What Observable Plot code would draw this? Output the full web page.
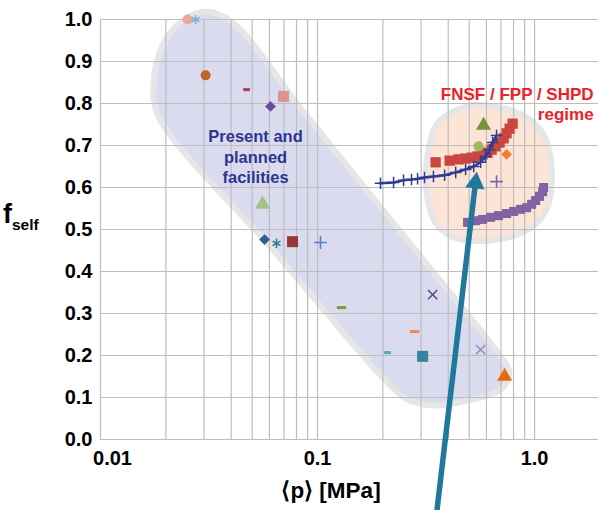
<!DOCTYPE html>
<html>
<head>
<meta charset="utf-8">
<script src="https://cdn.jsdelivr.net/npm/d3@7"></script>
<script src="https://cdn.jsdelivr.net/npm/@observablehq/plot@0.6"></script>
<style>
  html, body { margin: 0; padding: 0; background: #ffffff; }
</style>
</head>
<body>
<div id="chart"></div>
<script>
// ---------- axis ticks ----------
const yTicks = [0, 0.1, 0.2, 0.3, 0.4, 0.5, 0.6, 0.7, 0.8, 0.9, 1.0];
const xGridTicks = [0.01, 0.02, 0.03, 0.04, 0.05, 0.06, 0.07, 0.08, 0.09,
                    0.1, 0.2, 0.3, 0.4, 0.5, 0.6, 0.7, 0.8, 0.9, 1.0];
const xTickValues = [0.01, 0.1, 1.0];
const xTickLabels = ["0.01", "0.1", "1.0"];

// ---------- present and planned facilities (single points) ----------
const facP = [0.0252, 0.0274, 0.0305, 0.0471, 0.0697, 0.0607, 0.0558, 0.0570, 0.0647,
              0.0767, 0.1032, 0.129, 0.280, 0.339, 0.210, 0.305, 0.564, 0.728];
const facF = [1.000, 1.000, 0.867, 0.833, 0.817, 0.793, 0.560, 0.476, 0.467,
              0.471, 0.469, 0.314, 0.257, 0.345, 0.207, 0.198, 0.214, 0.150];
const facMarker = ["circle", "asterisk", "circle", "dashS", "square", "diamond", "triangle", "diamond", "asterisk",
                   "square", "plus", "dash", "dash", "times", "dashS", "square", "times", "triangle"];
const facColor = ["#f2a597", "#7ab6d8", "#c0652a", "#b3384a", "#d99594", "#6a4a9a", "#a6bf8c", "#2e5f8c", "#2f7f99",
                  "#953735", "#5a7fc0", "#7a9a3c", "#f08a4b", "#5d4a8a", "#4bacc6", "#31859c", "#9b89c0", "#e46c0a"];

// ---------- FNSF / FPP / SHPD single points ----------
const fnsfP = [0.582, 0.552, 0.743, 0.668];
const fnsfF = [0.748, 0.698, 0.679, 0.614];
const fnsfMarker = ["triangle", "circle", "diamond", "plus"];
const fnsfColor = ["#76923c", "#9bbb59", "#f07f28", "#8064a2"];

// ---------- FNSF scans ----------
const redP = [0.350, 0.406, 0.447, 0.481, 0.513, 0.546, 0.576, 0.607, 0.634, 0.661, 0.690, 0.720, 0.743, 0.767, 0.792];
const redF = [0.660, 0.664, 0.667, 0.669, 0.671, 0.674, 0.679, 0.683, 0.690, 0.698, 0.707, 0.717, 0.729, 0.740, 0.752];

const purpleP = [0.491, 0.535, 0.576, 0.627, 0.682, 0.743, 0.800, 0.862, 0.919, 0.969, 1.011, 1.054, 1.089, 1.100];
const purpleF = [0.517, 0.521, 0.524, 0.529, 0.533, 0.538, 0.543, 0.548, 0.552, 0.560, 0.569, 0.579, 0.590, 0.600];

const blueP = [0.195, 0.224, 0.249, 0.271, 0.289, 0.311, 0.342, 0.385, 0.433, 0.481, 0.524, 0.564, 0.594, 0.620, 0.641, 0.668];
const blueF = [0.610, 0.612, 0.617, 0.619, 0.621, 0.624, 0.626, 0.629, 0.636, 0.643, 0.650, 0.660, 0.674, 0.690, 0.707, 0.724];

// ---------- annotation shapes (outline points in data units) ----------
const presentRegionP = [0.0305, 0.0406, 0.0853, 0.2889, 0.6972, 0.767, 0.6972, 0.4965, 0.3388, 0.2544, 0.1993, 0.0640, 0.01851, 0.01754, 0.01931, 0.02336];
const presentRegionF = [1.019, 0.993, 0.783, 0.445, 0.198, 0.160, 0.119, 0.093, 0.081, 0.098, 0.148, 0.445, 0.769, 0.843, 0.938, 0.993];

const fnsfRegionP = [0.500, 0.700, 0.900, 1.090, 1.185, 1.200, 1.150, 1.000, 0.780, 0.560, 0.420, 0.345, 0.318, 0.322, 0.360];
const fnsfRegionF = [0.795, 0.790, 0.770, 0.730, 0.670, 0.610, 0.555, 0.510, 0.483, 0.472, 0.482, 0.520, 0.590, 0.680, 0.755];

const arrowTail = {p: 0.354, f: -0.174};
const arrowHead = {p: 0.534, f: 0.611};

const presentLabel = {p: 0.0518, f: 0.6745, text: "Present and\nplanned\nfacilities"};
const fnsfLabel = {p: 1.87, f: 0.8005, text: "FNSF / FPP / SHPD\nregime"};

// ---------- build tables ----------
const zipRows = (P, F, M, C) => P.map((p, i) => ({p, f: F[i], m: M ? M[i] : null, c: C ? C[i] : null}));
const facRows = zipRows(facP, facF, facMarker, facColor).concat(zipRows(fnsfP, fnsfF, fnsfMarker, fnsfColor));
const redRows = zipRows(redP, redF);
const purpleRows = zipRows(purpleP, purpleF);
const blueRows = zipRows(blueP, blueF);
const presentRegion = zipRows(presentRegionP, presentRegionF);
const fnsfRegion = zipRows(fnsfRegionP, fnsfRegionF);

// custom symbols
const rhombus = {draw(ctx, size) { const r = Math.sqrt(size / 2); ctx.moveTo(0, -r); ctx.lineTo(r, 0); ctx.lineTo(0, r); ctx.lineTo(-r, 0); ctx.closePath(); }};
const dashSym = {draw(ctx, size) { const w = Math.sqrt(size); const h = 1.5; ctx.rect(-w / 2, -h, w, 2 * h); }};

const markerStyle = {
  circle:   {symbol: "circle", r: 5, filled: true},
  square:   {symbol: "square", r: 6.2, filled: true},
  diamond:  {symbol: rhombus, r: 4.3, filled: true},
  triangle: {symbol: "triangle", r: 5.6, filled: true},
  dash:     {symbol: dashSym, r: 5.3, filled: true},
  dashS:    {symbol: dashSym, r: 3.8, filled: true},
  asterisk: {symbol: "asterisk", r: 4.3, filled: false},
  times:    {symbol: "times", r: 4.3, filled: false},
  plus:     {symbol: "plus", r: 4.2, filled: false}
};

const markerMarks = Object.entries(markerStyle).map(([key, s]) => {
  const rows = facRows.filter(d => d.m === key);
  return s.filled
    ? Plot.dot(rows, {x: "p", y: "f", symbol: s.symbol, r: s.r, fill: "c", stroke: "none"})
    : Plot.dot(rows, {x: "p", y: "f", symbol: s.symbol, r: s.r, stroke: "c", strokeWidth: 1.6, fill: "none"});
});

const FONT = "'Liberation Sans', Arial, Helvetica, sans-serif";
const teal = "#20789a";

const svg = Plot.plot({
  width: 598,
  height: 510,
  marginLeft: 100,
  marginRight: 0,
  marginTop: 19,
  marginBottom: 71,
  x: {type: "log", domain: [0.01, 1.97]},
  y: {domain: [0, 1]},
  color: {type: "identity"},
  style: {fontFamily: FONT, background: "#ffffff", color: "#000"},
  marks: [
    // shaded regions
    Plot.line(presentRegion, {x: "p", y: "f", curve: "catmull-rom-closed", fill: "#dadbee", stroke: "#e6e6e6", strokeWidth: 6}),
    Plot.line(fnsfRegion, {x: "p", y: "f", curve: "catmull-rom-closed", fill: "#fce4d6", stroke: "#e6e6e6", strokeWidth: 6}),
    // grid
    Plot.gridY(yTicks, {stroke: "#bdbdbd", strokeOpacity: 1, strokeWidth: 1.2}),
    Plot.gridX(xGridTicks, {stroke: "#bdbdbd", strokeOpacity: 1, strokeWidth: 1.2}),
    // axes
    Plot.axisY(yTicks, {tickSize: 0, tickPadding: 8, tickFormat: d3.format(".1f"), fontSize: 20, fontWeight: "bold", label: null}),
    Plot.axisX(xTickValues.slice(1), {tickSize: 0, tickPadding: 11, tickFormat: d => xTickLabels[xTickValues.indexOf(d)], fontSize: 20, fontWeight: "bold", label: null}),
    Plot.axisX(xTickValues.slice(0, 1), {tickSize: 0, tickPadding: 11, dx: 12, tickFormat: d => xTickLabels[xTickValues.indexOf(d)], fontSize: 20, fontWeight: "bold", label: null}),
    // FNSF scans
    Plot.dot(purpleRows, {x: "p", y: "f", symbol: "square", r: 5.1, fill: "#8064a2"}),
    Plot.dot(redRows, {x: "p", y: "f", symbol: "square", r: 5.8, fill: "#c9473f"}),
    Plot.line(blueRows, {x: "p", y: "f", stroke: "#2e3a95", strokeWidth: 2.5}),
    Plot.dot(blueRows, {x: "p", y: "f", symbol: "plus", r: 3.8, stroke: "#2e3a95", strokeWidth: 1.5}),
    // single facility markers
    ...markerMarks,
    // labels
    Plot.text([presentLabel], {x: "p", y: "f", text: "text", fill: "#2e3590", fontSize: 16.5, fontWeight: "bold", lineHeight: 1.24, textAnchor: "middle"}),
    Plot.text([fnsfLabel], {x: "p", y: "f", text: "text", fill: "#ec2227", fontSize: 17, fontWeight: "bold", lineHeight: 1.2, textAnchor: "end"}),
    // arrow
    Plot.link([{x1: arrowTail.p, y1: arrowTail.f, x2: arrowHead.p, y2: arrowHead.f}], {x1: "x1", y1: "y1", x2: "x2", y2: "y2", stroke: teal, strokeWidth: 5.5}),
    Plot.dot([arrowHead], {x: "p", y: "f", symbol: "triangle", r: 7.2, fill: teal, rotate: 6.7})
  ]
});

const s = d3.select(svg);
const yl = s.append("text")
  .attr("x", 3).attr("y", 223)
  .attr("text-anchor", "start")
  .attr("font-family", FONT).attr("font-weight", "bold").attr("fill", "#000");
yl.append("tspan").attr("font-size", 27).text("f");
yl.append("tspan").attr("font-size", 15.5).attr("dy", 7).text("self");

s.append("text")
  .attr("x", 331).attr("y", 498)
  .attr("text-anchor", "middle")
  .attr("font-family", FONT).attr("font-weight", "bold").attr("font-size", 22.5).attr("fill", "#000")
  .text("⟨p⟩ [MPa]");

document.getElementById("chart").appendChild(svg);
</script>
</body>
</html>
